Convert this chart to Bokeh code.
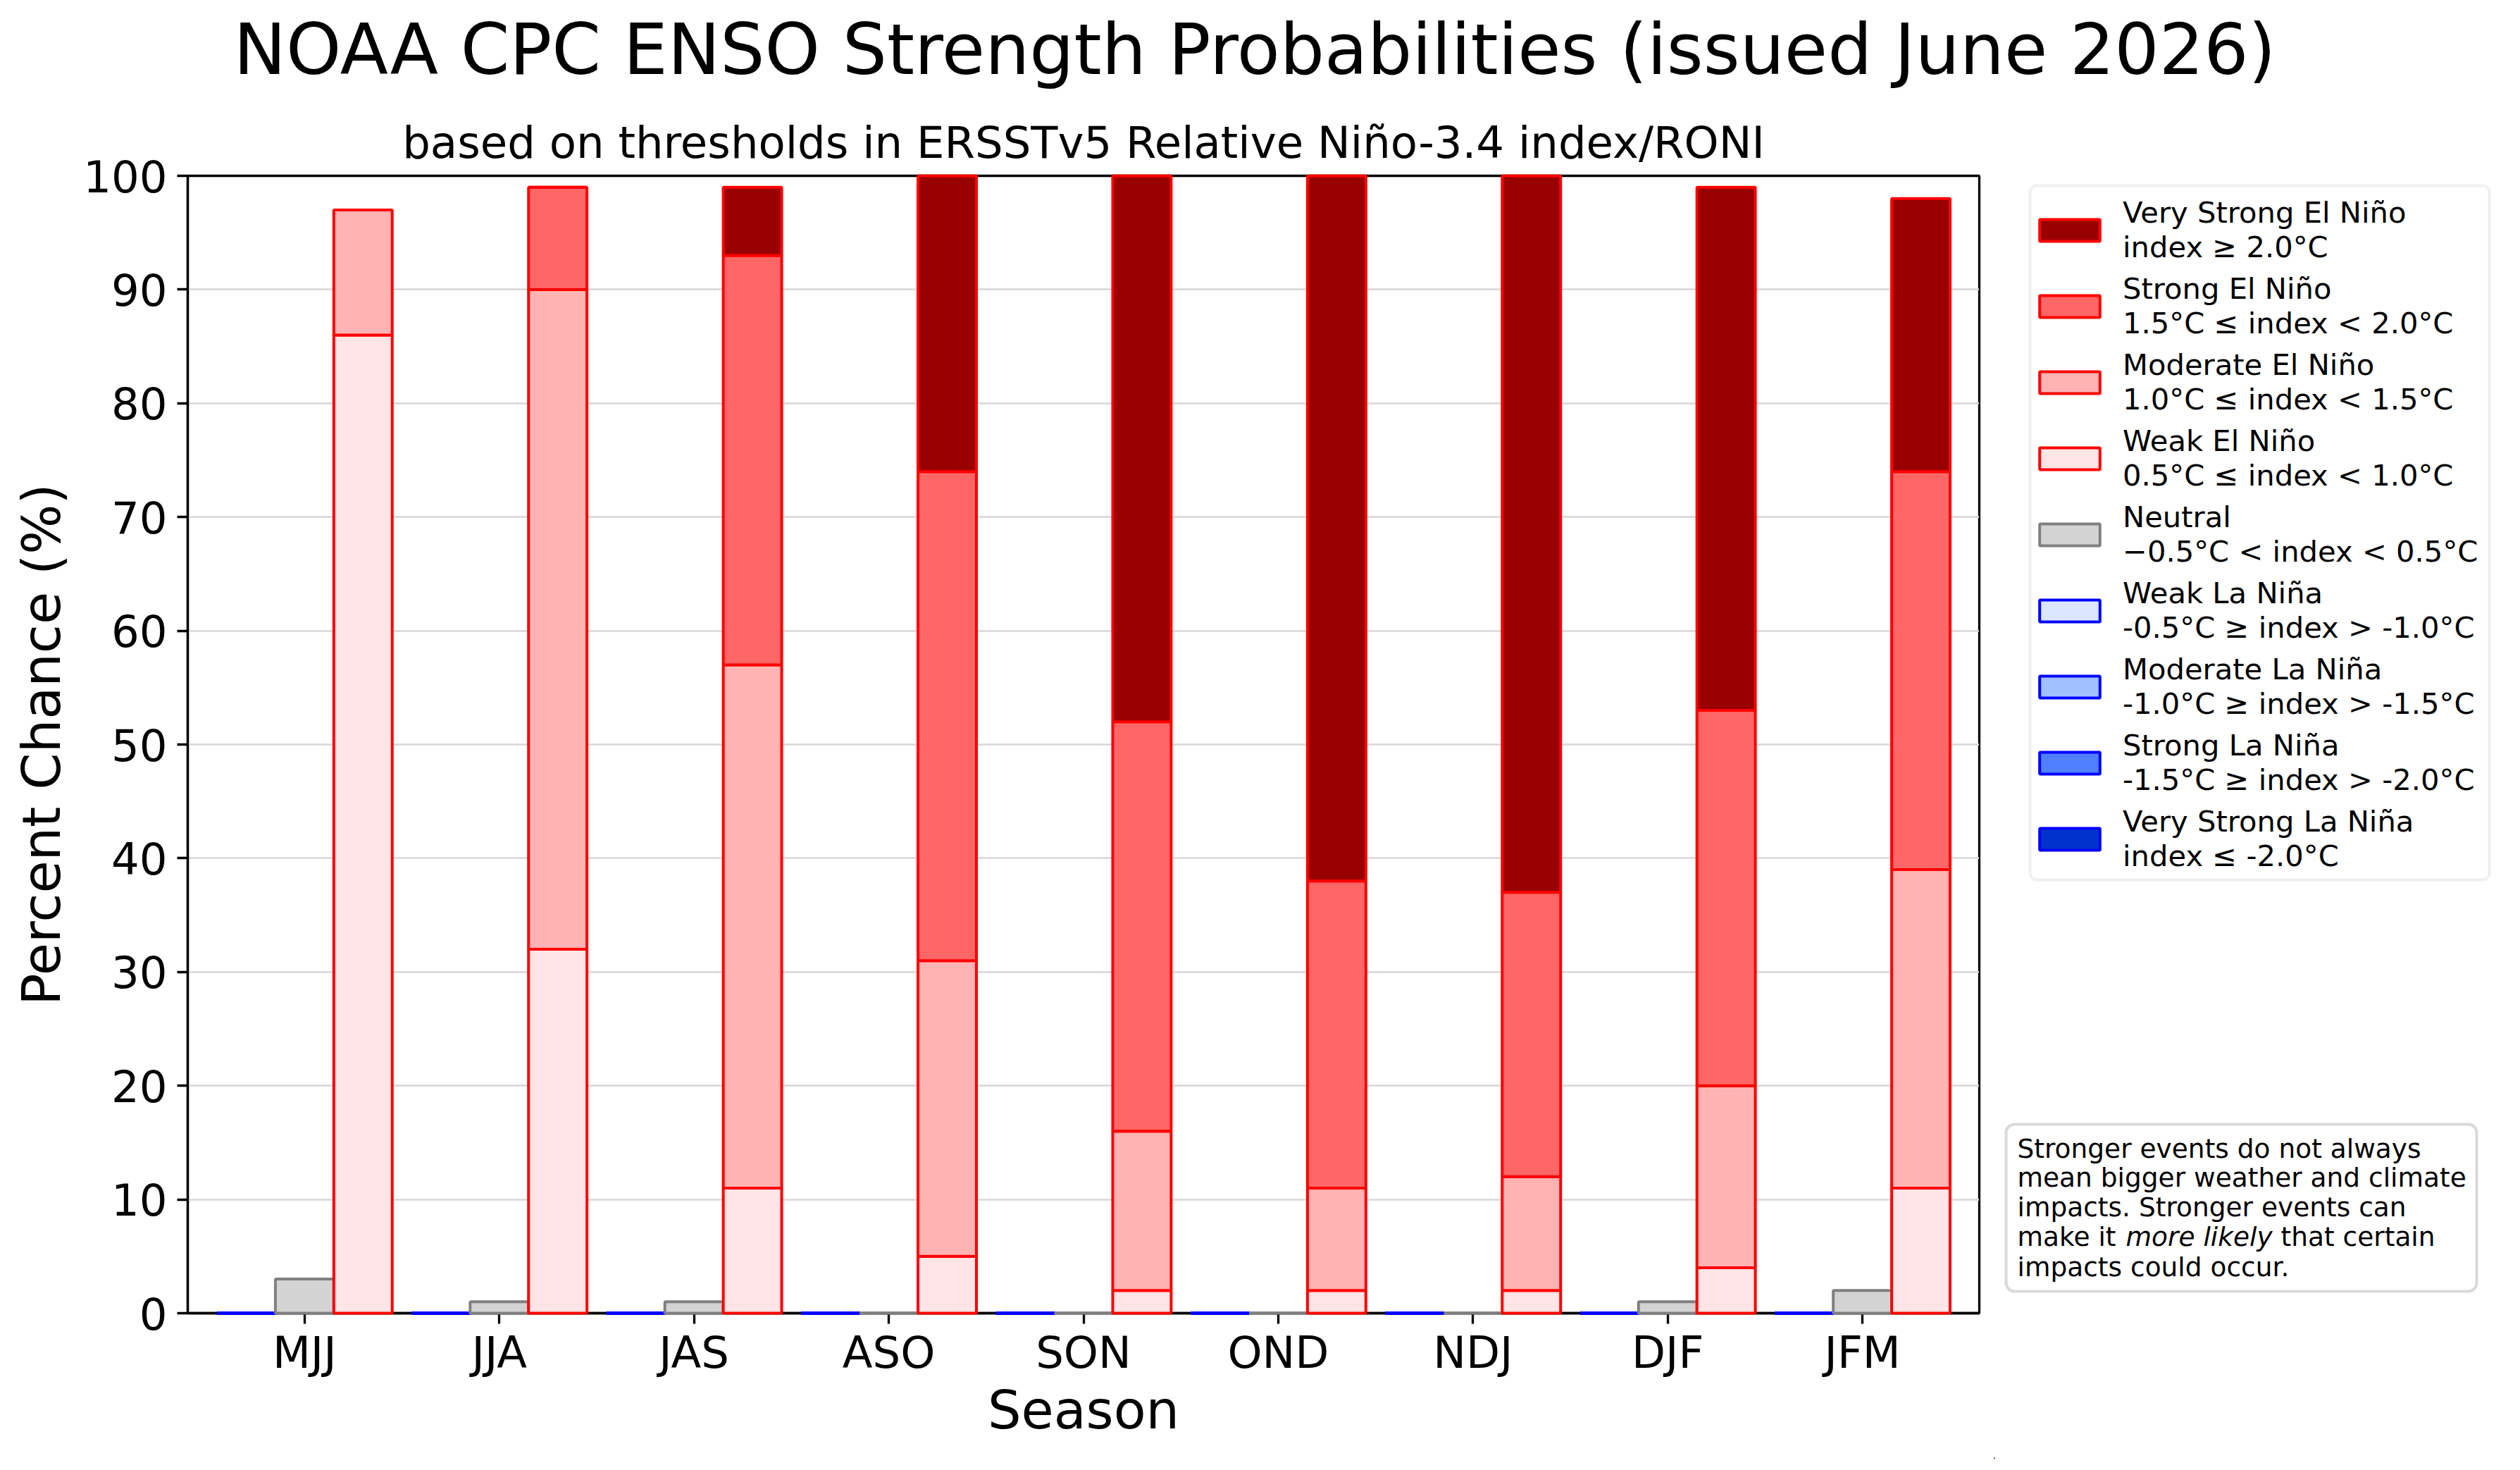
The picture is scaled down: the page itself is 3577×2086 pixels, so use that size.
import numpy as np
from bokeh.plotting import figure
from bokeh.layouts import column, row
from bokeh.models import (Range1d, FixedTicker, Legend, LegendItem, Label,
                          BoxAnnotation, ColumnDataSource, Title)
from bokeh.embed import file_html
from bokeh.resources import INLINE

# ---------------- data ----------------
seasons = ["MJJ", "JJA", "JAS", "ASO", "SON", "OND", "NDJ", "DJF", "JFM"]

weak_nina = [0, 0, 0, 0, 0, 0, 0, 0, 0]
moderate_nina = [0, 0, 0, 0, 0, 0, 0, 0, 0]
strong_nina = [0, 0, 0, 0, 0, 0, 0, 0, 0]
very_strong_nina = [0, 0, 0, 0, 0, 0, 0, 0, 0]

neutral = [3, 1, 1, 0, 0, 0, 0, 1, 2]

weak_nino = [86, 32, 11, 5, 2, 2, 2, 4, 11]
moderate_nino = [11, 58, 46, 26, 14, 9, 10, 16, 28]
strong_nino = [0, 9, 36, 43, 36, 27, 25, 33, 35]
very_strong_nino = [0, 0, 6, 26, 48, 62, 63, 46, 24]

y_ticks = [0, 10, 20, 30, 40, 50, 60, 70, 80, 90, 100]

legend_labels = [
    "Very Strong El Niño\nindex ≥ 2.0°C",
    "Strong El Niño\n1.5°C ≤ index < 2.0°C",
    "Moderate El Niño\n1.0°C ≤ index < 1.5°C",
    "Weak El Niño\n0.5°C ≤ index < 1.0°C",
    "Neutral\n\u22120.5°C < index < 0.5°C",
    "Weak La Niña\n-0.5°C ≥ index > -1.0°C",
    "Moderate La Niña\n-1.0°C ≥ index > -1.5°C",
    "Strong La Niña\n-1.5°C ≥ index > -2.0°C",
    "Very Strong La Niña\nindex ≤ -2.0°C",
]

title_text = "NOAA CPC ENSO Strength Probabilities (issued June 2026)"
subtitle_text = "based on thresholds in ERSSTv5 Relative Niño-3.4 index/RONI"

# ---------------- styling ----------------
FONT = "DejaVu Sans"
W, H = 3561, 2070
HT = 150                      # height of the strip holding the main title
WM = 2830                     # width of the main chart figure
FL, FR, FT, FB = 266, 2809, 249, 1863   # frame edges in page coords
HM = H - HT

nino_fills = ["#ffe5e6", "#ffb3b3", "#ff6666", "#990000"]
nina_fills = ["#dbe6ff", "#a0c0ff", "#5080ff", "#0033cc"]
neutral_fill = "#d3d3d3"
EDGE_W = 4
BAR_W = 0.3


def blank_figure(w, h, **kw):
    opts = dict(width=w, height=h, x_range=Range1d(0, w), y_range=Range1d(0, h),
                output_backend="svg", toolbar_location=None,
                min_border=0, x_axis_location=None, y_axis_location=None)
    opts.update(kw)
    f = figure(**opts)
    f.frame_align = False
    f.outline_line_color = None
    f.xgrid.visible = False
    f.ygrid.visible = False
    f.background_fill_color = "white"
    f.border_fill_color = "white"
    return f


# ---------------- title strip ----------------
tfig = blank_figure(W, HT, min_border_top=133)
tfig.title = Title(text=title_text, align="center", text_font=FONT,
                   text_font_size="99.7px", text_font_style="normal",
                   text_color="black", standoff=10)

# ---------------- main chart ----------------
p = figure(width=WM, height=HM, x_range=Range1d(-0.6, 8.6), y_range=Range1d(0, 100),
           output_backend="svg", toolbar_location=None,
           min_border_left=FL, min_border_right=WM - FR,
           min_border_top=FT - HT, min_border_bottom=H - FB)
p.frame_align = False
p.background_fill_color = "white"
p.border_fill_color = "white"
p.outline_line_color = "black"
p.outline_line_width = 3.3
p.title = Title(text=subtitle_text, align="center", text_font=FONT,
                text_font_size="62.5px", text_font_style="normal",
                text_color="black", standoff=22)

x = np.arange(len(seasons), dtype=float)


def stack(series, offset, fills, edge):
    bottom = np.zeros(len(seasons))
    rs = []
    for vals, fill in zip(series, fills):
        v = np.asarray(vals, dtype=float)
        src = ColumnDataSource(dict(x=x + offset, bottom=bottom.copy(), top=bottom + v))
        r = p.vbar(x="x", bottom="bottom", top="top", width=BAR_W, source=src,
                   fill_color=fill, line_color=edge, line_width=EDGE_W, level="overlay")
        rs.append(r)
        bottom = bottom + v
    return rs


r_nina = stack([weak_nina, moderate_nina, strong_nina, very_strong_nina], -0.3, nina_fills, "blue")
r_neut = stack([neutral], 0.0, [neutral_fill], "#808080")
r_nino = stack([weak_nino, moderate_nino, strong_nino, very_strong_nino], 0.3, nino_fills, "red")

p.xaxis.ticker = FixedTicker(ticks=list(range(len(seasons))))
p.xaxis.major_label_overrides = {i: s for i, s in enumerate(seasons)}
p.yaxis.ticker = FixedTicker(ticks=y_ticks)
p.xaxis.axis_label = "Season"
p.yaxis.axis_label = "Percent Chance (%)"

for ax in (p.xaxis[0], p.yaxis[0]):
    ax.axis_line_width = 3.3
    ax.axis_line_color = "black"
    ax.major_tick_line_width = 3.3
    ax.major_tick_line_color = "black"
    ax.major_tick_out = 15
    ax.major_tick_in = 0
    ax.minor_tick_line_color = None
    ax.major_label_text_font = FONT
    ax.major_label_text_font_size = "62.5px"
    ax.major_label_text_color = "black"
    ax.axis_label_text_font = FONT
    ax.axis_label_text_font_size = "75px"
    ax.axis_label_text_font_style = "normal"
    ax.axis_label_text_color = "black"

p.xaxis.major_label_standoff = 4
p.xaxis.axis_label_standoff = -2
p.yaxis.major_label_standoff = 14
p.yaxis.axis_label_standoff = 12

p.xgrid.grid_line_color = None
p.ygrid.grid_line_color = "#d6d6d6"
p.ygrid.grid_line_width = 2.5

# ---------------- side panel: legend + note ----------------
WS = W - WM
side = blank_figure(WS, HM, title_location=None)


def sx(px):  # page x -> side coords
    return px - WM


def sy(py):  # page y (down) -> side coords (up)
    return H - py


# legend frame
side.add_layout(BoxAnnotation(left=sx(2881), right=sx(3533), top=sy(263), bottom=sy(1248),
                              fill_color="white", fill_alpha=1.0,
                              line_color="#cccccc", line_width=4, border_radius=10))

leg_fills = nino_fills[::-1] + [neutral_fill] + nina_fills
leg_edges = ["red"] * 4 + ["#808080"] + ["blue"] * 4
items = []
for lab, fc, lc in zip(legend_labels, leg_fills, leg_edges):
    r = side.vbar(x=[-5000], bottom=[-5000], top=[-4999], width=1, fill_color=fc,
                  line_color=lc, line_width=EDGE_W)
    items.append(LegendItem(label=lab, renderers=[r]))
legend = Legend(items=items, location=(sx(2884), sy(1239)), orientation="vertical",
                padding=14, margin=0, spacing=10, glyph_width=107, glyph_height=39,
                label_standoff=22, label_text_font=FONT, label_text_font_size="41.7px",
                label_text_line_height=1.2, label_text_color="black",
                border_line_color=None, background_fill_alpha=0.0)
side.add_layout(legend)

# note box
side.add_layout(BoxAnnotation(left=sx(2847), right=sx(3515), top=sy(1595), bottom=sy(1832),
                              fill_color="white", fill_alpha=1.0,
                              line_color="#808080", line_width=4, border_radius=12))

note_lines = [
    "Stronger events do not always",
    "mean bigger weather and climate",
    "impacts. Stronger events can",
    None,
    "impacts could occur.",
]
note_base = [1629, 1670, 1712, 1754, 1797]
NX = sx(2863)
for txt, yb in zip(note_lines, note_base):
    if txt is None:
        continue
    side.add_layout(Label(x=NX, y=sy(yb), text=txt, text_align="left",
                          text_baseline="alphabetic", text_font=FONT,
                          text_font_size="37.5px", text_color="black"))
side.add_layout(Label(x=NX, y=sy(note_base[3]), text="make it", text_align="left",
                      text_baseline="alphabetic", text_font=FONT,
                      text_font_size="37.5px", text_color="black"))
side.add_layout(Label(x=NX + 154, y=sy(note_base[3]), text="more likely", text_align="left",
                      text_baseline="alphabetic", text_font=FONT, text_font_style="italic",
                      text_font_size="37.5px", text_color="black"))
side.add_layout(Label(x=NX + 374, y=sy(note_base[3]), text="that certain", text_align="left",
                      text_baseline="alphabetic", text_font=FONT,
                      text_font_size="37.5px", text_color="black"))

layout = column(tfig, row(p, side, spacing=0), spacing=0)
open("out.html", "w").write(file_html(layout, INLINE))
